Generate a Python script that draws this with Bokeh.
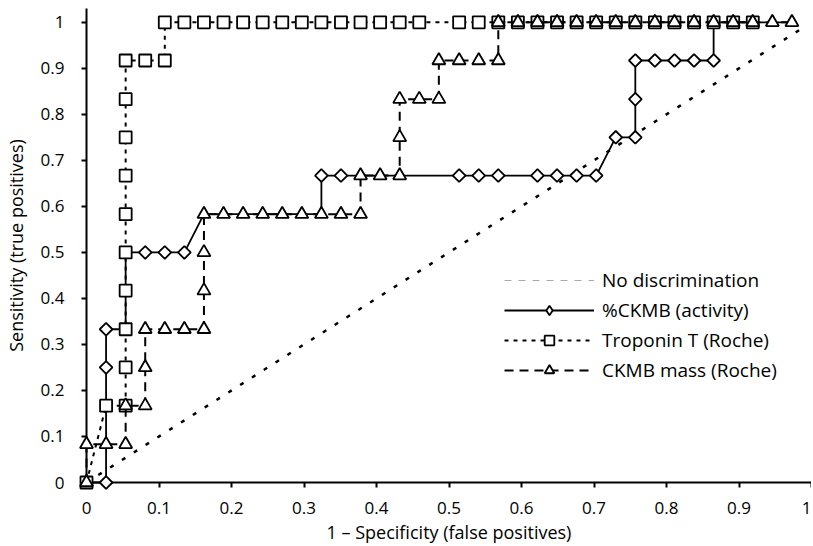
from bokeh.plotting import figure
from bokeh.models import Legend, LegendItem, FixedTicker, Range1d
from bokeh.embed import file_html
from bokeh.resources import INLINE

# ---------------- data ----------------
# No discrimination diagonal
diag_x = [0.0, 0.985]
diag_y = [0.0, 0.985]

# %CKMB (activity): line path and visible diamond markers
ckmb_line_x = [0.0, 0.027, 0.027, 0.027, 0.054, 0.054, 0.081, 0.108, 0.135, 0.162, 0.324, 0.324,
               0.703, 0.730, 0.757, 0.757, 0.757, 0.865, 0.865, 0.973]
ckmb_line_y = [0.0, 0.0, 0.25, 0.333, 0.333, 0.5, 0.5, 0.5, 0.5, 0.583, 0.583, 0.667,
               0.667, 0.75, 0.75, 0.833, 0.917, 0.917, 1.0, 1.0]
ckmb_pts_x = [0.027, 0.027, 0.027, 0.081, 0.108, 0.135, 0.324, 0.351, 0.514, 0.541, 0.568,
              0.622, 0.649, 0.676, 0.703, 0.730, 0.757, 0.757, 0.757, 0.784, 0.811, 0.838, 0.865]
ckmb_pts_y = [0.0, 0.25, 0.333, 0.5, 0.5, 0.5, 0.667, 0.667, 0.667, 0.667, 0.667,
              0.667, 0.667, 0.667, 0.667, 0.75, 0.75, 0.833, 0.917, 0.917, 0.917, 0.917, 0.917]

# Troponin T (Roche)
tnt_x = [0.0, 0.027, 0.054, 0.054, 0.054, 0.054, 0.054, 0.054, 0.054, 0.054, 0.054, 0.054,
         0.081, 0.108, 0.108, 0.135, 0.162, 0.189, 0.216, 0.243, 0.270, 0.297, 0.324, 0.351,
         0.378, 0.405, 0.432, 0.459, 0.514, 0.541, 0.568, 0.595, 0.622, 0.649, 0.676, 0.703,
         0.730, 0.757, 0.784, 0.811, 0.838, 0.865, 0.892, 0.919]
tnt_y = [0.0, 0.167, 0.167, 0.25, 0.333, 0.417, 0.5, 0.583, 0.667, 0.75, 0.833, 0.917,
         0.917, 0.917, 1.0, 1.0, 1.0, 1.0, 1.0, 1.0, 1.0, 1.0, 1.0, 1.0,
         1.0, 1.0, 1.0, 1.0, 1.0, 1.0, 1.0, 1.0, 1.0, 1.0, 1.0, 1.0,
         1.0, 1.0, 1.0, 1.0, 1.0, 1.0, 1.0, 1.0]

# CKMB mass (Roche)
mass_x = [0.0, 0.0, 0.027, 0.054, 0.054, 0.081, 0.081, 0.081, 0.108, 0.135, 0.162, 0.162,
          0.162, 0.162, 0.189, 0.216, 0.243, 0.270, 0.297, 0.324, 0.351, 0.378, 0.378, 0.405,
          0.432, 0.432, 0.432, 0.459, 0.486, 0.486, 0.514, 0.541, 0.568, 0.568, 0.595, 0.622,
          0.649, 0.676, 0.703, 0.730, 0.757, 0.784, 0.811, 0.838, 0.865, 0.892, 0.919, 0.946, 0.973]
mass_y = [0.0, 0.083, 0.083, 0.083, 0.167, 0.167, 0.25, 0.333, 0.333, 0.333, 0.333, 0.417,
          0.5, 0.583, 0.583, 0.583, 0.583, 0.583, 0.583, 0.583, 0.583, 0.583, 0.667, 0.667,
          0.667, 0.75, 0.833, 0.833, 0.833, 0.917, 0.917, 0.917, 0.917, 1.0, 1.0, 1.0,
          1.0, 1.0, 1.0, 1.0, 1.0, 1.0, 1.0, 1.0, 1.0, 1.0, 1.0, 1.0, 1.0]

ticks = [0, 0.1, 0.2, 0.3, 0.4, 0.5, 0.6, 0.7, 0.8, 0.9, 1]
tick_labels = ["0", "0.1", "0.2", "0.3", "0.4", "0.5", "0.6", "0.7", "0.8", "0.9", "1"]

labels = ["No discrimination", "%CKMB (activity)", "Troponin T (Roche)", "CKMB mass (Roche)"]
x_title = "1 \u2013 Specificity (false positives)"
y_title = "Sensitivity (true positives)"

FONT = "Open Sans"
NAN = float("nan")

p = figure(frame_width=725, frame_height=474, output_backend="svg", toolbar_location=None,
           x_range=Range1d(0, 1.0), y_range=Range1d(0, 1.03),
           min_border_left=81, min_border_right=0, min_border_top=8, min_border_bottom=0)
p.outline_line_color = None
p.grid.visible = False
p.background_fill_color = "white"

for ax in (p.xaxis[0], p.yaxis[0]):
    ax.ticker = FixedTicker(ticks=ticks)
    ax.major_label_overrides = {t: l for t, l in zip(ticks, tick_labels)}
    ax.axis_line_width = 2
    ax.major_tick_line_width = 2
    ax.major_tick_out = 5
    ax.major_tick_in = 0
    ax.minor_tick_line_color = None
    ax.major_label_text_font = FONT
    ax.major_label_text_font_size = "17px"
    ax.major_label_text_color = "black"
    ax.axis_label_text_font = FONT
    ax.axis_label_text_font_size = "18px"
    ax.axis_label_text_font_style = "normal"
    ax.axis_label_text_color = "black"

p.xaxis.axis_label = x_title
p.yaxis.axis_label = y_title
p.xaxis.major_label_standoff = 14
p.xaxis.axis_label_standoff = 3
p.yaxis.major_label_standoff = 17
p.yaxis.axis_label_standoff = 10

# diagonal
d = p.line(diag_x, diag_y, line_color="black", line_width=2.5, line_dash="4 10")
# legend-only renderers
leg_diag = p.line([NAN, NAN], [NAN, NAN], line_color="#aaaaaa", line_width=1, line_dash="7 7")
leg_diam = p.scatter([NAN], [NAN], marker="diamond", size=14,
                     fill_color="white", line_color="black", line_width=1.8)

# %CKMB
l1 = p.line(ckmb_line_x, ckmb_line_y, line_color="black", line_width=1.8)
s1 = p.scatter(ckmb_pts_x, ckmb_pts_y, marker="square", angle=0.7853981634, size=9,
               fill_color="white", line_color="black", line_width=1.8)

# Troponin T
l2 = p.line(tnt_x, tnt_y, line_color="black", line_width=2, line_dash="4 5")
s2 = p.scatter(tnt_x, tnt_y, marker="square", size=12,
               fill_color="white", line_color="black", line_width=1.8)

# CKMB mass
l3 = p.line(mass_x, mass_y, line_color="black", line_width=2, line_dash="9 6")
s3 = p.scatter(mass_x, mass_y, marker="triangle", size=13,
               fill_color="white", line_color="black", line_width=1.8)

for r in (d, l1, s1, l2, s2, l3, s3):
    r.level = "overlay"

legend = Legend(items=[
    LegendItem(label=labels[0], renderers=[leg_diag]),
    LegendItem(label=labels[1], renderers=[l1, leg_diam]),
    LegendItem(label=labels[2], renderers=[l2, s2]),
    LegendItem(label=labels[3], renderers=[l3, s3]),
], location=(418, 97))
legend.border_line_color = None
legend.background_fill_alpha = 0
legend.glyph_width = 90
legend.glyph_height = 24
legend.label_height = 30
legend.spacing = 0
legend.padding = 0
legend.margin = 0
legend.label_standoff = 8
legend.label_text_font = FONT
legend.label_text_font_size = "19px"
legend.label_text_color = "black"
p.add_layout(legend, "center")

open("out.html", "w").write(file_html(p, INLINE))
